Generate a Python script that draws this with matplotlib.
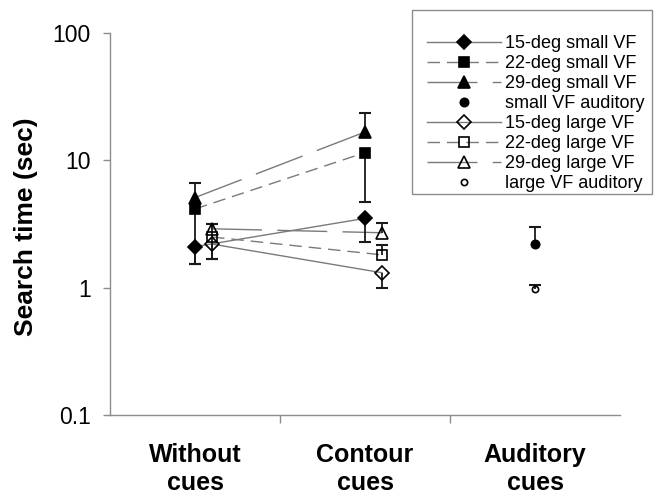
import numpy as np
import matplotlib
matplotlib.use('Agg')
import matplotlib.pyplot as plt
from matplotlib.ticker import FixedLocator, NullLocator
from matplotlib.patches import Rectangle

plt.rcParams['font.family'] = ['Liberation Sans', 'DejaVu Sans']

conditions = ['Without\ncues', 'Contour\ncues', 'Auditory\ncues']
y_ticks = [0.1, 1, 10, 100]
y_tick_labels = ['0.1', '1', '10', '100']

# search times (sec): without cues, contour cues
small_15 = [2.1, 3.5]
small_22 = [4.15, 11.5]
small_29 = [5.1, 16.7]
large_15 = [2.2, 1.31]
large_22 = [2.5, 1.81]
large_29 = [2.9, 2.7]
small_aud = [2.2]
large_aud = [0.97]

# error bar ends (nan = not drawn)
nan = np.nan
small_15_lo, small_15_hi = [1.54, 2.29], [nan, nan]
small_22_lo, small_22_hi = [1.54, 4.72], [nan, nan]
small_29_lo, small_29_hi = [nan, nan], [6.6, 23.6]
large_15_lo, large_15_hi = [1.68, 1.0], [nan, nan]
large_22_lo, large_22_hi = [1.68, nan], [3.15, 2.17]
large_29_lo, large_29_hi = [nan, nan], [3.15, 3.23]
small_aud_lo, small_aud_hi = [nan], [3.0]
large_aud_lo, large_aud_hi = [nan], [1.05]

line_col = '#7a7a7a'
dash_short = (0, (9, 5))
dash_long = (0, (36, 11))

series = [
    # label, values, lo, hi, category x, offset, marker, filled, ms, linestyle
    ('15-deg small VF', small_15, small_15_lo, small_15_hi, [0, 1], 0.0, 'D', True, 7, '-'),
    ('22-deg small VF', small_22, small_22_lo, small_22_hi, [0, 1], 0.0, 's', True, 7, dash_short),
    ('29-deg small VF', small_29, small_29_lo, small_29_hi, [0, 1], 0.0, '^', True, 8.5, dash_long),
    ('small VF auditory', small_aud, small_aud_lo, small_aud_hi, [2], 0.0, 'o', True, 6, 'none'),
    ('15-deg large VF', large_15, large_15_lo, large_15_hi, [0, 1], 0.1, 'D', False, 7, '-'),
    ('22-deg large VF', large_22, large_22_lo, large_22_hi, [0, 1], 0.1, 's', False, 7, dash_short),
    ('29-deg large VF', large_29, large_29_lo, large_29_hi, [0, 1], 0.1, '^', False, 8.5, dash_long),
    ('large VF auditory', large_aud, large_aud_lo, large_aud_hi, [2], 0.0, 'o', False, 4.5, 'none'),
]

fig = plt.figure(figsize=(6.58, 4.98), dpi=100)
ax = fig.add_axes([110 / 658, 1 - 415 / 498, 510 / 658, 382 / 498])

handles = []
for label, vals, lo, hi, cx, off, mk, filled, ms, ls in series:
    x = np.array(cx) + off
    vals = np.array(vals, dtype=float)
    lo = np.array(lo, dtype=float)
    hi = np.array(hi, dtype=float)
    # error bars
    bot = np.where(np.isnan(lo), vals, lo)
    top = np.where(np.isnan(hi), vals, hi)
    ax.vlines(x, bot, top, color='#1a1a1a', lw=1.3, zorder=2)
    ax.plot(x, lo, ls='none', marker='_', ms=9, mew=1.5, color='#1a1a1a', zorder=2)
    ax.plot(x, hi, ls='none', marker='_', ms=9, mew=1.5, color='#1a1a1a', zorder=2)
    # connecting lines
    if ls != 'none':
        ax.plot(x, vals, ls=ls, color=line_col, lw=1, zorder=1)
    ax.plot(x, vals, ls='none', marker=mk, ms=ms, color='black',
            mfc='black' if filled else 'none', mew=1.2, zorder=3)
    h, = ax.plot([], [], ls=ls if ls != 'none' else 'none', color=line_col, lw=1,
                 marker=mk, ms=ms, mec='black', mfc='black' if filled else 'none',
                 mew=1.2, label=label)
    handles.append(h)

ax.set_yscale('log')
ax.set_ylim(0.1, 100)
ax.set_xlim(-0.5, 2.5)
ax.yaxis.set_major_locator(FixedLocator(y_ticks))
ax.yaxis.set_minor_locator(NullLocator())
ax.set_yticklabels(y_tick_labels)

ax.xaxis.set_major_locator(FixedLocator([0.5, 1.5]))
ax.xaxis.set_minor_locator(FixedLocator([0, 1, 2]))
ax.set_xticklabels([], minor=False)
ax.set_xticklabels(conditions, minor=True, fontsize=18, fontweight='bold',
                   linespacing=1.2)
ax.tick_params(axis='x', which='major', direction='out', length=6, width=1,
               color='#8c8c8c')
ax.tick_params(axis='x', which='minor', length=0, pad=20)
ax.tick_params(axis='y', direction='out', length=5, width=1, color='#8c8c8c',
               labelsize=16.5, pad=9)

for s in ['top', 'right']:
    ax.spines[s].set_visible(False)
for s in ['left', 'bottom']:
    ax.spines[s].set_color('#8c8c8c')
    ax.spines[s].set_linewidth(1)

fig.text(26 / 658, 1 - 227 / 498, 'Search time (sec)', rotation=90, fontsize=19,
         fontweight='bold', ha='center', va='center')

# legend frame and entries
fig.patches.append(Rectangle((412 / 658, 1 - 194 / 498), 240 / 658, 184 / 498,
                             transform=fig.transFigure, fill=False,
                             edgecolor='#8c8c8c', lw=1))
fig.legend(handles=handles, loc='upper left',
           bbox_to_anchor=(427 / 658, 1 - 35 / 498), bbox_transform=fig.transFigure,
           frameon=False, fontsize=13, borderpad=0, borderaxespad=0,
           handlelength=4.1, handletextpad=0.2, labelspacing=0.17)

fig.savefig('out.png', dpi=100)
